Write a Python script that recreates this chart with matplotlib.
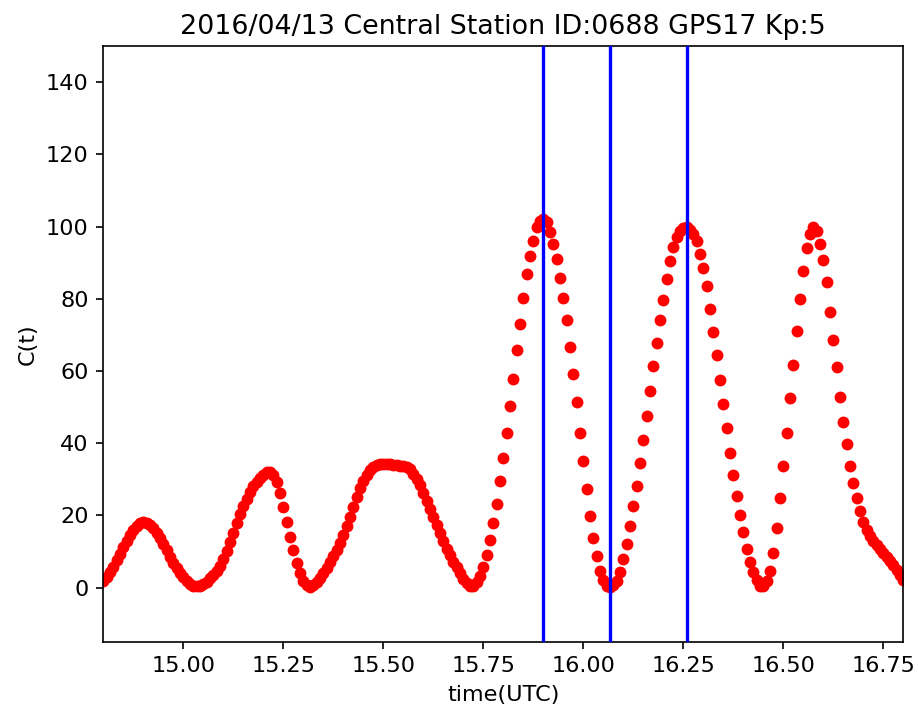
import matplotlib.pyplot as plt
import numpy as np

# C(t) samples, one every 30 s starting at 14.8 h UTC
ct = [
    1.7, 2.8, 4.2, 5.8, 7.5, 9.3, 11.1, 12.9, 14.5, 15.9,
    17.1, 17.9, 18.2, 18.0, 17.4, 16.4, 15.1, 13.6, 12.0, 10.3,
    8.6, 6.9, 5.4, 4.0, 2.8, 1.8, 1.0, 0.5, 0.3, 0.5,
    0.9, 1.6, 2.6, 3.6, 4.7, 6.0, 7.8, 10.0, 12.6, 15.2,
    17.8, 20.3, 22.6, 24.6, 26.4, 28.0, 29.3, 30.4, 31.3, 31.9,
    32.0, 31.3, 29.3, 26.3, 22.3, 18.2, 13.9, 10.4, 6.7, 4.0,
    1.8, 0.6, 0.2, 0.6, 1.4, 2.6, 3.9, 5.4, 7.0, 8.7,
    10.4, 12.4, 14.5, 17.0, 19.6, 22.3, 25.0, 27.5, 29.5, 31.2,
    32.5, 33.4, 33.9, 34.1, 34.2, 34.2, 34.1, 34.0, 33.9, 33.8,
    33.6, 33.3, 32.8, 31.6, 30.1, 28.3, 26.3, 24.0, 21.9, 19.6,
    17.3, 15.0, 12.8, 10.8, 9.0, 7.2, 5.6, 3.9, 2.4, 1.2,
    0.5, 0.4, 1.4, 3.2, 5.8, 9.0, 13.3, 17.9, 23.2, 29.4,
    35.8, 42.9, 50.3, 57.8, 65.7, 73.0, 80.3, 87.0, 92.0, 95.9,
    99.8, 101.6, 102.0, 101.4, 98.5, 95.1, 90.9, 85.8, 80.1, 74.1,
    66.6, 59.3, 51.5, 42.9, 35.0, 27.3, 19.7, 13.8, 8.7, 4.7,
    2.1, 0.5, 0.1, 0.7, 1.8, 4.4, 7.8, 12.2, 17.0, 22.5,
    28.0, 34.4, 40.8, 47.5, 54.4, 61.3, 67.9, 74.1, 79.7, 85.6,
    90.4, 94.3, 97.1, 98.7, 99.6, 99.9, 99.2, 98.0, 95.9, 92.5,
    88.6, 83.5, 77.2, 70.9, 64.3, 57.4, 50.8, 44.1, 37.4, 31.3,
    25.5, 20.2, 15.4, 10.8, 7.2, 4.4, 2.1, 0.5, 0.3, 1.7,
    4.7, 9.6, 16.5, 24.8, 33.6, 42.9, 52.6, 61.8, 71.2, 79.9,
    87.6, 94.1, 98.0, 99.8, 98.7, 95.2, 90.7, 84.7, 76.4, 68.5,
    61.0, 52.9, 46.0, 39.9, 33.6, 28.9, 24.9, 21.1, 18.2, 15.9,
    14.3, 13.0, 11.9, 10.8, 9.7, 8.6, 7.4, 6.2, 4.9, 3.5,
    2.1,
]
t_start = 14.8
dt = 30.0 / 3600.0
time = t_start + dt * np.arange(len(ct))

# marked epochs (hours UTC)
events = [15.9, 16.0667, 16.2583]

title = "2016/04/13 Central Station ID:0688 GPS17 Kp:5"

plt.rcParams["font.size"] = 10.75

fig = plt.figure(figsize=(6.12, 4.74), dpi=150)
ax = fig.add_axes([0.1125, 0.0975, 0.8715, 0.8375])

ax.scatter(time, ct, s=22, c="r", zorder=2)
for ev in events:
    ax.axvline(ev, color="b", linewidth=1.6, zorder=3)

ax.set_xlim(14.8, 16.8)
ax.set_ylim(-15, 150)
ax.set_yticks(np.arange(0, 141, 20))
ax.set_xlabel("time(UTC)")
ax.set_ylabel("C(t)")
ax.set_title(title, fontsize=12.9)

fig.savefig("out.png", dpi=150)
plt.close(fig)
